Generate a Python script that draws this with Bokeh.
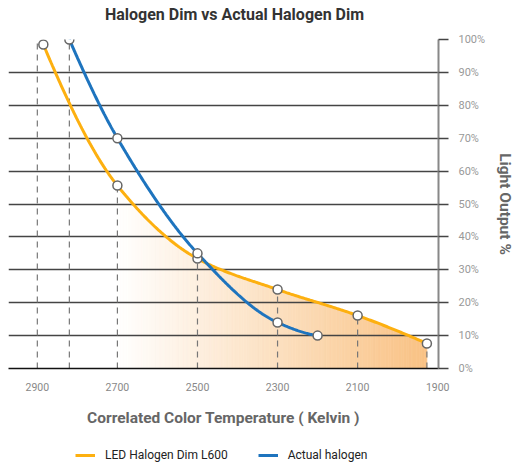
import numpy as np
from bokeh.plotting import figure
from bokeh.layouts import column
from bokeh.models import Range1d, FixedTicker, PrintfTickFormatter, Legend, LegendItem, Label
from bokeh.embed import file_html
from bokeh.resources import INLINE

# ---- data ----
led_k = [2885, 2700, 2500, 2300, 2100, 1927]
led_pct = [98.5, 55.6, 33.4, 24.0, 16.1, 7.6]
hal_k = [2820, 2700, 2500, 2300, 2200]
hal_pct = [100, 70, 35, 14, 10]
x_ticks = [2900, 2700, 2500, 2300, 2100, 1900]
y_ticks = list(range(0, 101, 10))
fill_start_k = 2700
guide_k = [2900] + hal_k[:1] + led_k[1:]
guide_top = [100] + hal_pct[:1] + led_pct[1:]
series_names = ["LED Halogen Dim L600", "Actual halogen"]
title_text = "Halogen Dim vs Actual Halogen Dim"

ORANGE = "#FDB010"
BLUE = "#1E74BE"
FONT = "Roboto"
W = 513


def pchip(xk, yk):
    x = np.asarray(xk, float)
    y = np.asarray(yk, float)
    o = np.argsort(x)
    x, y = x[o], y[o]
    h = np.diff(x)
    d = np.diff(y) / h
    m = np.zeros_like(x)
    for i in range(1, len(x) - 1):
        if d[i - 1] * d[i] > 0:
            w1 = 2 * h[i] + h[i - 1]
            w2 = h[i] + 2 * h[i - 1]
            m[i] = (w1 + w2) / (w1 / d[i - 1] + w2 / d[i])

    def endm(h0, h1, d0, d1):
        mm = ((2 * h0 + h1) * d0 - h0 * d1) / (h0 + h1)
        if np.sign(mm) != np.sign(d0):
            mm = 0.0
        elif np.sign(d0) != np.sign(d1) and abs(mm) > abs(3 * d0):
            mm = 3 * d0
        return mm

    m[0] = endm(h[0], h[1], d[0], d[1])
    m[-1] = endm(h[-1], h[-2], d[-1], d[-2])

    def f(xs):
        xs = np.asarray(xs, float)
        idx = np.clip(np.searchsorted(x, xs) - 1, 0, len(h) - 1)
        t = (xs - x[idx]) / h[idx]
        h00 = 2 * t**3 - 3 * t**2 + 1
        h10 = t**3 - 2 * t**2 + t
        h01 = -2 * t**3 + 3 * t**2
        h11 = t**3 - t**2
        return (h00 * y[idx] + h10 * h[idx] * m[idx]
                + h01 * y[idx + 1] + h11 * h[idx] * m[idx + 1])

    return f, x[0], x[-1]


led_f, led_lo, led_hi = pchip(led_k, led_pct)
hal_f, hal_lo, hal_hi = pchip(hal_k, hal_pct)

led_x = np.linspace(led_lo, led_hi, 300)
hal_x = np.linspace(hal_lo, hal_hi, 300)

# ---- title strip ----
tf = figure(width=W, height=29, output_backend="svg", toolbar_location=None,
            x_range=Range1d(0, W), y_range=Range1d(0, 29),
            min_border_left=0, min_border_right=0, min_border_top=0, min_border_bottom=0)
tf.axis.visible = False
tf.grid.visible = False
tf.outline_line_color = None
tf.add_layout(Label(x=226, y=15, x_units="screen", y_units="screen",
                    text=title_text, text_align="center", text_baseline="middle",
                    text_font=FONT, text_font_size="16px", text_font_style="bold",
                    text_color="#333333"))

# ---- main chart ----
p = figure(frame_width=430, frame_height=329, output_backend="svg", toolbar_location=None,
           x_range=Range1d(2972, 1898), y_range=Range1d(0, 100),
           y_axis_location="right",
           min_border_left=8, min_border_right=75, min_border_top=10, min_border_bottom=68)
p.outline_line_color = None
p.background_fill_color = "white"

# gradient fill under the LED curve
n = 120
fx = np.linspace(fill_start_k, led_lo, n + 1)
fy = led_f(fx)
c0 = np.array([255, 255, 255])
c1 = np.array([249, 194, 132])
xs, ys, cols = [], [], []
for i in range(n):
    t = (i + 0.5) / n
    c = (c0 + (c1 - c0) * t).round().astype(int)
    cols.append("#%02x%02x%02x" % tuple(c))
    xs.append([fx[i], fx[i + 1], fx[i + 1], fx[i]])
    ys.append([0, 0, fy[i + 1], fy[i]])
p.patches(xs, ys, fill_color=cols, line_color=cols, line_width=0.7, level="image")

# dashed guides
p.segment(x0=guide_k, y0=[0] * len(guide_k), x1=guide_k, y1=guide_top,
          line_color="#777777", line_width=1.2, line_dash="6 5")

p.line(led_x, led_f(led_x), line_color=ORANGE, line_width=3)
p.line(hal_x, hal_f(hal_x), line_color=BLUE, line_width=3)

p.scatter(led_k, led_pct, size=9, fill_color="white", line_color="#666666", line_width=1.5)
p.scatter(hal_k, hal_pct, size=9, fill_color="white", line_color="#666666", line_width=1.5)

# axes
p.xgrid.grid_line_color = None
p.ygrid.grid_line_color = "#444444"
p.ygrid.grid_line_width = 1.3
p.ygrid.ticker = FixedTicker(ticks=y_ticks)

xa = p.xaxis[0]
xa.ticker = FixedTicker(ticks=x_ticks)
xa.axis_line_color = "#111111"
xa.axis_line_width = 1.5
xa.major_tick_line_color = None
xa.minor_tick_line_color = None
xa.major_label_standoff = 8
xa.major_label_text_font = FONT
xa.major_label_text_font_size = "10.5px"
xa.major_label_text_color = "#888888"
xa.axis_label = "Correlated Color Temperature ( Kelvin )"
xa.axis_label_text_font = FONT
xa.axis_label_text_font_size = "15.5px"
xa.axis_label_text_font_style = "bold"
xa.axis_label_text_color = "#666666"
xa.axis_label_standoff = 15

ya = p.yaxis[0]
ya.ticker = FixedTicker(ticks=y_ticks)
ya.formatter = PrintfTickFormatter(format="%d%%")
ya.axis_line_color = "#888888"
ya.axis_line_width = 2
ya.major_tick_line_color = "#444444"
ya.major_tick_line_width = 1.3
ya.major_tick_in = 0
ya.major_tick_out = 10
ya.minor_tick_line_color = None
ya.major_label_standoff = 10
ya.major_label_text_font = FONT
ya.major_label_text_font_size = "11px"
ya.major_label_text_color = "#999999"
ya.axis_label = "Light Output %"
ya.axis_label_text_font = FONT
ya.axis_label_text_font_size = "15.5px"
ya.axis_label_text_font_style = "bold"
ya.axis_label_text_color = "#666666"
ya.axis_label_standoff = 8

# ---- legend strip ----
lf = figure(width=W, height=32, output_backend="svg", toolbar_location=None,
            x_range=Range1d(0, 1), y_range=Range1d(0, 1),
            min_border_left=0, min_border_right=0, min_border_top=0, min_border_bottom=0)
lf.axis.visible = False
lf.grid.visible = False
lf.outline_line_color = None
lr1 = lf.line([5, 6], [5, 5], line_color=ORANGE, line_width=3)
lr2 = lf.line([5, 6], [5, 5], line_color=BLUE, line_width=3)
legend = Legend(items=[LegendItem(label=series_names[0], renderers=[lr1]),
                       LegendItem(label=series_names[1], renderers=[lr2])],
                orientation="horizontal", location=(67, 6))
legend.border_line_color = None
legend.background_fill_alpha = 0
legend.padding = 0
legend.margin = 0
legend.spacing = 30
legend.glyph_width = 20
legend.glyph_height = 14
legend.label_height = 14
legend.label_standoff = 10
legend.label_text_font = FONT
legend.label_text_font_size = "12px"
legend.label_text_color = "#222222"
lf.add_layout(legend)

layout = column(tf, p, lf, spacing=0)
open("out.html", "w").write(file_html(layout, INLINE))
